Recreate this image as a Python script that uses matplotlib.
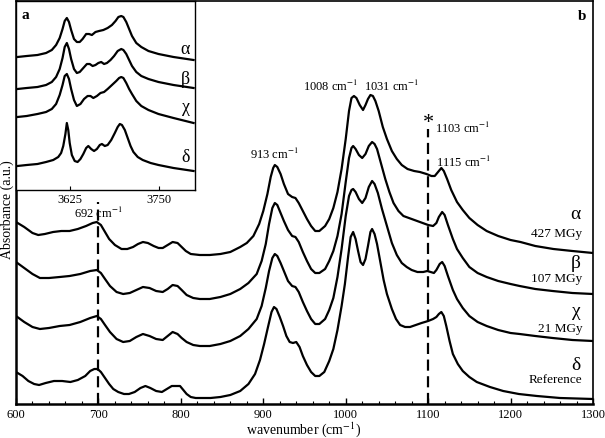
import matplotlib
matplotlib.use("Agg")
import matplotlib.pyplot as plt
from matplotlib.ticker import MultipleLocator

plt.rcParams['font.family'] = ['Liberation Serif', 'DejaVu Serif']
plt.rcParams['mathtext.fontset'] = 'stix'

# main panel (b): wavenumber (cm-1) and absorbance (a.u., stacked)
wn_alpha = [600, 610, 620, 627, 635, 645, 655, 665, 675, 685, 693, 698, 703, 708, 713, 720,
            728, 735, 742, 748, 754, 760, 767, 773, 778, 784, 790, 796, 801, 806, 812, 823,
            835, 848, 860, 872, 880, 888, 895, 900, 905, 909, 912, 914, 917, 921, 925, 930,
            935, 939, 943, 948, 953, 958, 963, 968, 975, 980, 985, 990, 995, 1000, 1004, 1007,
            1010, 1013, 1017, 1021, 1024, 1027, 1030, 1033, 1036, 1040, 1045, 1050, 1056, 1062,
            1068, 1075, 1083, 1090, 1098, 1104, 1108, 1112, 1116, 1119, 1123, 1128, 1135, 1142,
            1150, 1160, 1171, 1185, 1200, 1212, 1230, 1252, 1275, 1300]
abs_alpha = [182, 177, 171, 169, 170, 172, 173, 173, 175, 178, 181, 182, 179, 172, 165, 159,
             155, 155, 157, 160, 162, 161, 158, 156, 156, 159, 162, 161, 157, 153, 150, 149,
             149, 150, 152, 157, 161, 168, 180, 193, 210, 227, 236, 239, 237, 230, 220, 210,
             207, 206, 201, 193, 185, 178, 173, 173, 178, 185, 196, 212, 235, 265, 293, 306,
             308, 306, 299, 294, 299, 305, 309, 308, 303, 293, 277, 265, 253, 245,
             239, 235, 233, 232, 230, 228, 228, 232, 236, 233, 225, 214, 202, 194,
             186, 179, 173, 168, 164, 162, 158, 155, 153, 151]

wn_beta = [600, 610, 620, 629, 640, 653, 665, 678, 690, 698, 703, 708, 714, 722, 730, 738,
           746, 754, 762, 770, 778, 784, 790, 796, 801, 807, 815, 823, 835, 848, 860, 872,
           882, 892, 898, 903, 907, 911, 914, 917, 921, 925, 930, 935, 939, 943, 948, 953,
           958, 963, 968, 975, 980, 985, 990, 995, 1000, 1004, 1007, 1009, 1012, 1016, 1020,
           1024, 1028, 1032, 1035, 1038, 1042, 1048, 1053, 1058, 1064, 1070, 1080, 1090, 1100,
           1106, 1110, 1113, 1117, 1120, 1124, 1130, 1135, 1142, 1150, 1160, 1171, 1185, 1200,
           1211, 1230, 1251, 1275, 1300]
abs_beta = [142, 136, 130, 126, 126, 127, 128, 130, 133, 134, 131, 125, 118, 112, 110, 111,
            114, 117, 116, 113, 112, 115, 119, 118, 114, 109, 106, 105, 105, 107, 110, 115,
            121, 130, 143, 160, 180, 196, 201, 199, 191, 183, 174, 168, 167, 162, 152, 143,
            135, 131, 131, 135, 143, 153, 168, 190, 222, 246, 256, 258, 255, 249, 246,
            250, 258, 262, 260, 255, 243, 225, 212, 201, 193, 188, 185, 182, 179,
            178, 181, 187, 192, 189, 179, 165, 155, 146, 137, 131, 127, 123, 120,
            118, 115, 113, 111, 110]

wn_chi = [600, 610, 620, 629, 640, 653, 665, 678, 690, 698, 703, 708, 714, 722, 730, 738,
          746, 754, 762, 770, 778, 784, 790, 796, 801, 807, 815, 823, 835, 848, 860, 872,
          882, 892, 898, 903, 907, 911, 914, 917, 921, 925, 930, 935, 939, 943, 948, 953,
          958, 963, 968, 975, 980, 985, 990, 995, 1000, 1004, 1007, 1009, 1012, 1016, 1020,
          1024, 1028, 1032, 1035, 1039, 1044, 1050, 1056, 1062, 1068, 1074, 1080, 1087, 1094,
          1099, 1103, 1107, 1110, 1114, 1117, 1120, 1124, 1130, 1135, 1142, 1150, 1160, 1171,
          1185, 1200, 1211, 1230, 1251, 1275, 1300]
abs_chi = [88, 82, 77, 75, 76, 78, 79, 82, 86, 88, 85, 79, 72, 65, 62, 63,
           67, 70, 68, 65, 64, 68, 72, 70, 66, 62, 59, 58, 58, 60, 63, 68,
           75, 85, 98, 116, 133, 146, 150, 148, 141, 133, 123, 118, 117, 112, 102, 93,
           85, 80, 80, 85, 94, 106, 127, 155, 188, 208, 214, 215, 212, 205, 201,
           206, 217, 223, 220, 211, 195, 178, 161, 149, 141, 137, 134, 132, 132,
           133, 132, 131, 134, 140, 142, 138, 128, 114, 105, 96, 88, 82, 78,
           74, 71, 70, 68, 66, 64, 63]

wn_delta = [600, 608, 615, 622, 628, 636, 646, 656, 666, 675, 684, 690, 695, 699, 703, 708,
            713, 718, 724, 731, 737, 744, 751, 757, 763, 770, 777, 783, 789, 794, 799, 803,
            807, 812, 818, 824, 836, 848, 860, 872, 882, 890, 896, 901, 906, 910, 913, 916,
            920, 924, 928, 932, 936, 940, 944, 948, 953, 958, 963, 968, 974, 980, 985, 990,
            995, 999, 1003, 1006, 1009, 1012, 1015, 1018, 1021, 1024, 1027, 1030, 1032, 1035,
            1038, 1042, 1046, 1050, 1056, 1061, 1066, 1072, 1078, 1085, 1092, 1100, 1106, 1110,
            1113, 1116, 1119, 1122, 1126, 1130, 1136, 1142, 1150, 1159, 1175, 1191, 1210, 1232,
            1260, 1300]
abs_delta = [32, 28, 23, 20, 19, 21, 23, 23, 22, 24, 28, 33, 35, 35, 32, 26,
             20, 15, 12, 10, 10, 12, 16, 18, 16, 13, 12, 15, 18, 18, 18, 14,
             10, 7, 6, 6, 6, 7, 9, 13, 20, 30, 44, 60, 78, 92, 97, 95,
             87, 78, 68, 62, 61, 62, 57, 48, 39, 32, 28, 28, 32, 43, 55, 74,
             98, 120, 148, 167, 172, 165, 153, 142, 139, 145, 158, 172, 175, 170,
             160, 142, 124, 110, 95, 85, 79, 77, 77, 79, 81, 83, 85, 87,
             90, 92, 88, 78, 63, 50, 40, 33, 27, 22, 17, 13, 10, 8,
             6, 5]

# inset (a): OH stretching region
wn_in_alpha = [3552, 3565, 3580, 3592, 3600, 3606, 3611, 3615, 3618, 3621, 3624, 3627, 3631,
               3635, 3639, 3643, 3648, 3652, 3656, 3661, 3666, 3672, 3678, 3684, 3689, 3693,
               3697, 3700, 3704, 3708, 3712, 3718, 3725, 3735, 3749, 3770, 3798]
abs_in_alpha = [133, 134, 135, 137, 140, 145, 152, 161, 169, 172, 168, 160, 151,
                148, 148, 151, 156, 156, 155, 158, 159, 160, 162, 165, 169, 173,
                174, 173, 168, 161, 154, 147, 143, 139, 136, 133, 130]
wn_in_beta = [3552, 3565, 3580, 3592, 3600, 3606, 3611, 3615, 3618, 3621, 3624, 3627, 3631,
              3635, 3639, 3644, 3649, 3653, 3657, 3661, 3665, 3669, 3673, 3677, 3682, 3687,
              3692, 3697, 3700, 3704, 3708, 3712, 3718, 3725, 3735, 3749, 3770, 3798]
abs_in_beta = [101, 102, 103, 105, 108, 113, 121, 132, 143, 147, 141, 131, 121,
               117, 118, 122, 126, 126, 124, 125, 127, 128, 126, 127, 130, 134,
               139, 141, 140, 136, 130, 124, 118, 114, 111, 108, 105, 102]
wn_in_chi = [3552, 3565, 3580, 3592, 3600, 3606, 3611, 3615, 3618, 3621, 3624, 3627, 3631,
             3635, 3640, 3645, 3650, 3654, 3658, 3663, 3668, 3673, 3678, 3684, 3690, 3694,
             3697, 3700, 3704, 3708, 3712, 3718, 3725, 3735, 3749, 3770, 3798]
abs_in_chi = [73, 74, 76, 78, 81, 86, 95, 105, 114, 116, 111, 101, 90,
              84, 86, 91, 94, 94, 92, 94, 97, 98, 101, 105, 109, 112,
              113, 112, 107, 101, 96, 89, 84, 80, 76, 72, 67]
wn_in_delta = [3552, 3565, 3580, 3592, 3602, 3609, 3613, 3616, 3619, 3621, 3623, 3625, 3628,
               3632, 3636, 3640, 3644, 3648, 3651, 3655, 3659, 3663, 3667, 3670, 3674, 3678,
               3683, 3688, 3692, 3695, 3698, 3702, 3706, 3710, 3714, 3720, 3727, 3738, 3749,
               3770, 3798]
abs_in_delta = [24, 25, 26, 28, 30, 33, 37, 44, 56, 67, 60, 47, 35,
                29, 28, 31, 36, 42, 44, 41, 39, 41, 45, 46, 44, 45,
                50, 57, 63, 66, 65, 60, 52, 44, 38, 33, 30, 27, 25,
                22, 19]

greek = ['α', 'β', 'χ', 'δ']
doses = ['427 MGy', '107 MGy', '21 MGy', 'Reference']

fig = plt.figure(figsize=(6.05, 4.39), dpi=100)
ax = fig.add_axes([16/605, 34/439, 577/605, 403/439])

for wn, ab in [(wn_alpha, abs_alpha), (wn_beta, abs_beta), (wn_chi, abs_chi), (wn_delta, abs_delta)]:
    ax.plot(wn, ab, color='black', lw=1.6, solid_joinstyle='round')

ax.plot([700, 700], [0, 202], color='black', lw=1.6, dashes=(5, 2.5))
ax.plot([1100, 1100], [0, 275], color='black', lw=1.6, dashes=(5, 2.5))

ax.set_xlim(600, 1300)
ax.set_ylim(0, 403)
ax.xaxis.set_major_locator(MultipleLocator(100))
ax.xaxis.set_minor_locator(MultipleLocator(20))
ax.tick_params(axis='x', which='major', direction='in', length=4, width=1, labelsize=9, pad=3)
ax.tick_params(axis='x', which='minor', direction='in', length=2.5, width=0.8)
ax.set_yticks([])
for s in ['left', 'bottom']:
    ax.spines[s].set_linewidth(1.8)
for s in ['right', 'top']:
    ax.spines[s].set_linewidth(1.2)

fig.text(304/605, 0, 'wavenumber (cm$^{-1}$)', fontsize=10, ha='center', va='bottom')
fig.text(1/605, 1 - 210/439, 'Absorbance (a.u.)', fontsize=10, rotation=90, ha='left', va='center')

ax.text(1292, 395, 'b', fontsize=11, fontweight='bold', ha='right', va='top')
ax.text(700, 192, '692 cm$^{-1}$', fontsize=9, ha='center', va='center')
ax.text(913, 251, '913 cm$^{-1}$', fontsize=9, ha='center', va='center')
ax.text(982, 319, '1008 cm$^{-1}$', fontsize=9, ha='center', va='center')
ax.text(1056, 319, '1031 cm$^{-1}$', fontsize=9, ha='center', va='center')
ax.text(1100, 281, '*', fontsize=16, ha='center', va='center')
ax.text(1108, 277, '1103 cm$^{-1}$', fontsize=9, ha='left', va='center')
ax.text(1110, 243, '1115 cm$^{-1}$', fontsize=9, ha='left', va='center')

greek_y = [190, 141, 93, 39]
dose_y = [171, 126, 76, 25]
for g, d, gy, dy in zip(greek, doses, greek_y, dose_y):
    ax.text(1285, gy, g, fontsize=14, ha='right', va='center')
    ax.text(1287, dy, d, fontsize=9.5, ha='right', va='center')

# inset
axi = fig.add_axes([16/605, 248/439, 179/605, 189/439])
for wn, ab in [(wn_in_alpha, abs_in_alpha), (wn_in_beta, abs_in_beta),
               (wn_in_chi, abs_in_chi), (wn_in_delta, abs_in_delta)]:
    axi.plot(wn, ab, color='black', lw=1.6, solid_joinstyle='round')
axi.set_xlim(3550, 3800)
axi.set_ylim(0, 189)
axi.set_xticks([3625, 3750])
axi.set_yticks([])
axi.tick_params(axis='x', direction='in', length=3, width=0.8, labelsize=9, pad=2)
for s in axi.spines.values():
    s.set_linewidth(1.0)
axi.text(3557, 182, 'a', fontsize=11, fontweight='bold', ha='left', va='top')
inset_greek_y = [141, 111, 83, 34]
for g, gy in zip(greek, inset_greek_y):
    axi.text(3793, gy, g, fontsize=13, ha='right', va='center')

fig.savefig('out.png', dpi=100)
